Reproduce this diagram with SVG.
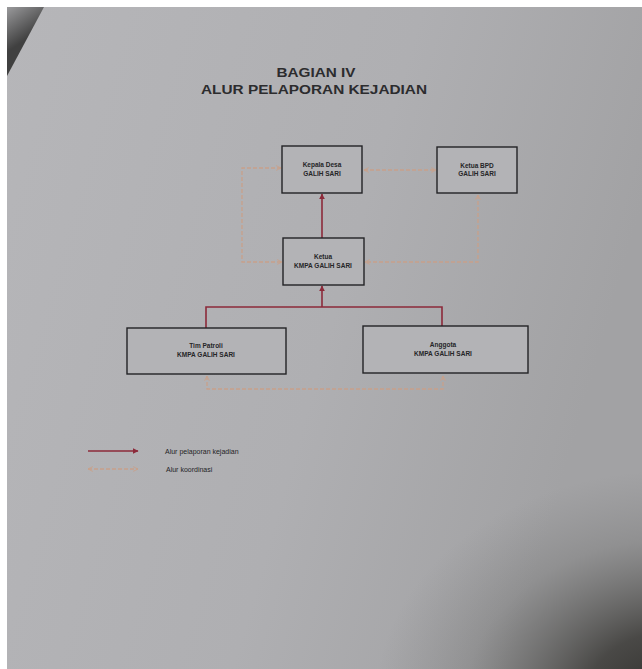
<svg xmlns="http://www.w3.org/2000/svg" width="642" height="669" viewBox="0 0 642 669">
<defs>
<linearGradient id="paper" x1="0" y1="0" x2="1" y2="0.3">
<stop offset="0" stop-color="#b6b6b9"/>
<stop offset="0.6" stop-color="#afafb2"/>
<stop offset="1" stop-color="#a2a2a4"/>
</linearGradient>
<radialGradient id="shade" cx="0" cy="0" r="1" gradientUnits="userSpaceOnUse" gradientTransform="translate(675,700) scale(300,230)">
<stop offset="0" stop-color="#2e2d2a" stop-opacity="1"/>
<stop offset="0.3" stop-color="#3a3936" stop-opacity="0.85"/>
<stop offset="0.7" stop-color="#5a5a58" stop-opacity="0.25"/>
<stop offset="1" stop-color="#6a6a6a" stop-opacity="0"/>
</radialGradient>
<linearGradient id="corner" x1="7" y1="7" x2="28" y2="38" gradientUnits="userSpaceOnUse">
<stop offset="0" stop-color="#9a9a9c"/>
<stop offset="1" stop-color="#404040"/>
</linearGradient>
<marker id="ar" viewBox="0 0 10 10" refX="9" refY="5" markerWidth="6" markerHeight="6" orient="auto-start-reverse" markerUnits="userSpaceOnUse">
<path d="M0,0 L10,5 L0,10 z" fill="#8c2a3a"/>
</marker>
<marker id="ad" viewBox="0 0 10 10" refX="9" refY="5" markerWidth="6" markerHeight="6" orient="auto-start-reverse" markerUnits="userSpaceOnUse">
<path d="M1,1 L9,5 L1,9" fill="none" stroke="#c8a08a" stroke-width="1.5"/>
</marker>
</defs>
<style>
.box{fill:#b3b3b6;stroke:#232325;stroke-width:1.4}
.t{font-family:"Liberation Sans",Arial,sans-serif;font-size:6.5px;font-weight:bold;fill:#252527;text-anchor:middle}
.title{font-family:"Liberation Sans",Arial,sans-serif;font-size:13px;font-weight:bold;fill:#2c2c2e;text-anchor:middle}
.lg{font-family:"Liberation Sans",Arial,sans-serif;font-size:7px;fill:#242426}
.red{fill:none;stroke:#8c2a3a;stroke-width:1.6}
.dash{fill:none;stroke:#c8a08a;stroke-width:1.3;stroke-dasharray:4 2}
</style>
<rect x="0" y="0" width="642" height="669" fill="#ffffff"/>
<rect x="7" y="7" width="635" height="662" fill="url(#paper)"/>
<rect x="7" y="7" width="635" height="662" fill="url(#shade)"/>
<polygon points="7,7 44,7 7,76" fill="url(#corner)"/>

<text class="title" x="316" y="77" textLength="79" lengthAdjust="spacingAndGlyphs">BAGIAN IV</text>
<text class="title" x="314" y="94" textLength="226" lengthAdjust="spacingAndGlyphs">ALUR PELAPORAN KEJADIAN</text>

<g id="connectors">
<path class="red" d="M322,238 V194" marker-end="url(#ar)"/>
<path class="red" d="M322,307 V286" marker-end="url(#ar)"/>
<path class="red" d="M206,328 V307 H442 V326"/>
<path class="dash" d="M364,170 H436" marker-start="url(#ad)" marker-end="url(#ad)"/>
<path class="dash" d="M281,168 H242 V262 H282" marker-start="url(#ad)" marker-end="url(#ad)"/>
<path class="dash" d="M478,195 V262 H365" marker-start="url(#ad)" marker-end="url(#ad)"/>
<path class="dash" d="M207,376 V389 H443 V376" marker-start="url(#ad)" marker-end="url(#ad)"/>
</g>

<g id="kepala-desa">
<rect class="box" x="282" y="146" width="80" height="47"/>
<text class="t" x="322" y="167">Kepala Desa</text>
<text class="t" x="322" y="176">GALIH SARI</text>
</g>
<g id="ketua-bpd">
<rect class="box" x="437" y="147" width="80" height="46"/>
<text class="t" x="477" y="168">Ketua BPD</text>
<text class="t" x="477" y="176">GALIH SARI</text>
</g>
<g id="ketua-kmpa">
<rect class="box" x="283" y="238" width="81" height="47"/>
<text class="t" x="323" y="259">Ketua</text>
<text class="t" x="323" y="268">KMPA GALIH SARI</text>
</g>
<g id="tim-patroli">
<rect class="box" x="127" y="328" width="159" height="46"/>
<text class="t" x="206" y="348">Tim Patroli</text>
<text class="t" x="206" y="357">KMPA GALIH SARI</text>
</g>
<g id="anggota">
<rect class="box" x="363" y="326" width="165" height="47"/>
<text class="t" x="443" y="347">Anggota</text>
<text class="t" x="443" y="356">KMPA GALIH SARI</text>
</g>

<g id="legend">
<path class="red" d="M88,451 H138" marker-end="url(#ar)"/>
<text class="lg" x="165" y="454">Alur pelaporan kejadian</text>
<path class="dash" d="M88,469 H138" marker-start="url(#ad)" marker-end="url(#ad)"/>
<text class="lg" x="166" y="472">Alur koordinasi</text>
</g>
</svg>
